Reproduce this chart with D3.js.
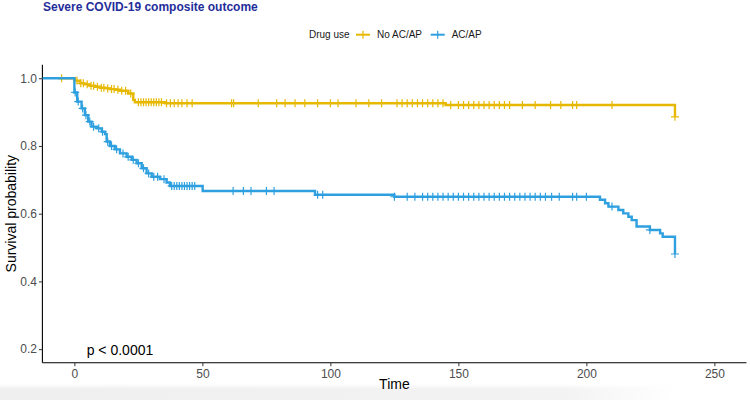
<!DOCTYPE html>
<html>
<head>
<meta charset="utf-8">
<script src="https://cdn.jsdelivr.net/npm/d3@7"></script>
<style>
  html, body { margin: 0; padding: 0; background: #fff; }
  svg { display: block; font-family: "Liberation Sans", Arial, sans-serif; }
</style>
</head>
<body>
<svg id="chart" width="750" height="400"></svg>
<script>
// ---------------- data ----------------
const title = "Severe COVID-19 composite outcome";
const legendTitle = "Drug use";
const groups = ["No AC/AP", "AC/AP"];
const xTicks = [0, 50, 100, 150, 200, 250];
const yTicks = [0.2, 0.4, 0.6, 0.8, 1.0];
const pValueLabel = "p < 0.0001";

// No AC/AP step curve (time, survival)
const noTimes = [-6.3, 0.2, 2.2, 4, 6, 8, 10, 12, 14, 16, 17.8, 21, 23, 23.6, 35.4, 145, 234.6];
const noSurv  = [1.0, 0.993, 0.985, 0.982, 0.978, 0.975, 0.972, 0.970, 0.968, 0.966, 0.963, 0.955, 0.936, 0.929, 0.926, 0.921, 0.886];
const noCensor = [-5, 1, 2.5, 3.5, 5, 6.5, 7.5, 9, 10.5, 11.5, 13, 14.5, 15.5, 17, 18.5, 20, 22, 25, 26, 27, 28, 29, 30, 31, 32, 33, 34, 36, 37.5, 39, 40.5, 42, 44, 46, 61.4, 62.2, 71.8, 79, 82.3, 86.2, 90, 95, 100, 103, 110, 115, 120, 126, 128, 130, 132, 134, 136, 138, 140, 142, 144, 147, 150, 152, 154, 156, 158, 160, 162, 164, 166, 168, 170, 175, 180, 186, 190, 194.6, 196.2, 210, 234.6];

// AC/AP step curve (time, survival)
const acTimes = [-12.5, 0, 1.1, 2.8, 4.1, 5.4, 6.7, 8.7, 10.7, 12, 12.6, 13.9, 15.8, 17.8, 20.4, 22.4, 24.3, 26.3, 28.2, 30.2, 33.4, 36, 37.3, 50.1, 94, 125, 205.3, 207.3, 208.6, 212.5, 214.4, 216.4, 217.7, 219.6, 224.8, 228.8, 229.8, 234.6];
const acSurv  = [1.0, 0.958, 0.931, 0.911, 0.891, 0.872, 0.857, 0.852, 0.842, 0.835, 0.813, 0.800, 0.790, 0.778, 0.768, 0.759, 0.749, 0.734, 0.719, 0.709, 0.702, 0.692, 0.682, 0.667, 0.656, 0.650, 0.641, 0.631, 0.621, 0.611, 0.601, 0.591, 0.581, 0.562, 0.552, 0.542, 0.532, 0.481];
const acCensor = [0.3, 1.5, 3.2, 4.5, 6, 7.5, 9.5, 11, 13, 14.5, 16.5, 19, 21, 23, 25, 27, 29, 31, 32.5, 35, 38, 39, 40, 41, 42, 43, 44, 45, 46, 47, 62, 66, 69, 75, 78, 95, 97, 125, 130, 133, 136, 138, 140, 142, 144, 146, 148, 150, 152, 154, 156, 158, 160, 162, 164, 166, 168, 170, 172, 174, 176, 178, 180, 182, 184, 186.4, 189.4, 194.6, 196.2, 200, 210, 224.8, 234.6];

const colors = ["#E7B800", "#2E9FDF"];

// ---------------- layout ----------------
const svg = d3.select("#chart");
const W = 750, H = 400;
const mLeft = 42.4, mRight = 746.4, mTop = 64.7, mBottom = 362.7;

const x = d3.scaleLinear().domain([-12.5, 262.5]).range([mLeft, mRight]);
const y = d3.scaleLinear().domain([0.16, 1.04]).range([mBottom, mTop]);

// bottom grey shade (screenshot artefact)
const defs = svg.append("defs");
const grad = defs.append("linearGradient").attr("id", "shade").attr("x1", 0).attr("x2", 1).attr("y1", 0).attr("y2", 0);
grad.append("stop").attr("offset", "0%").attr("stop-color", "#efefef");
grad.append("stop").attr("offset", "75%").attr("stop-color", "#f3f3f3");
grad.append("stop").attr("offset", "90%").attr("stop-color", "#ffffff");
const gradV = defs.append("linearGradient").attr("id", "shadeV").attr("x1", 0).attr("x2", 0).attr("y1", 0).attr("y2", 1);
gradV.append("stop").attr("offset", "0%").attr("stop-color", "#fff").attr("stop-opacity", 1);
gradV.append("stop").attr("offset", "100%").attr("stop-color", "#fff").attr("stop-opacity", 0);
svg.append("rect").attr("x", 0).attr("y", 384).attr("width", W).attr("height", 16).attr("fill", "url(#shade)");
svg.append("rect").attr("x", 0).attr("y", 384).attr("width", W).attr("height", 5).attr("fill", "url(#shadeV)");

// clip
defs.append("clipPath").attr("id", "clip").append("rect")
  .attr("x", mLeft).attr("y", mTop - 10).attr("width", mRight - mLeft).attr("height", mBottom - mTop + 10);

// title
svg.append("text").attr("x", 43).attr("y", 11)
  .attr("font-size", 12).attr("font-weight", "bold").attr("fill", "#1f2d9a")
  .text(title);

// legend
const lg = svg.append("g").attr("font-size", 10).attr("fill", "#1a1a1a");
lg.append("text").attr("x", 309).attr("y", 38.3).text(legendTitle);
const legItems = [{lx: 356, tx: 377}, {lx: 430.7, tx: 451.7}];
groups.forEach((g, i) => {
  const it = legItems[i];
  lg.append("line").attr("x1", it.lx).attr("x2", it.lx + 14).attr("y1", 34.7).attr("y2", 34.7)
    .attr("stroke", colors[i]).attr("stroke-width", 2);
  lg.append("line").attr("x1", it.lx + 7).attr("x2", it.lx + 7).attr("y1", 30.7).attr("y2", 38.7)
    .attr("stroke", colors[i]).attr("stroke-width", 1.2);
  lg.append("text").attr("x", it.tx).attr("y", 38.3).text(g);
});

// axes
const xAxis = d3.axisBottom(x).tickValues(xTicks).tickSize(3.5).tickPadding(3).tickFormat(d3.format("d"));
const yAxis = d3.axisLeft(y).tickValues(yTicks).tickSize(3.5).tickPadding(2).tickFormat(d3.format(".1f"));

const gx = svg.append("g").attr("transform", `translate(0,${mBottom})`).call(xAxis);
const gy = svg.append("g").attr("transform", `translate(${mLeft},0)`).call(yAxis);
[gx, gy].forEach(g => {
  g.select(".domain").attr("stroke", "#000").attr("stroke-width", 1.1);
  g.selectAll(".tick line").attr("stroke", "#333").attr("stroke-width", 1);
  g.selectAll(".tick text").attr("fill", "#4d4d4d").attr("font-size", 12)
    .attr("font-family", "'Liberation Sans', Arial, sans-serif");
});
gx.select(".domain").attr("d", `M${mLeft},0H${mRight}`);
gy.select(".domain").attr("d", `M0,${mTop}V${mBottom}`);

// axis titles
svg.append("text").attr("x", (mLeft + mRight) / 2).attr("y", 389).attr("text-anchor", "middle")
  .attr("font-size", 14).attr("fill", "#000").text("Time");
svg.append("text").attr("transform", `translate(15.5,${(mTop + mBottom) / 2}) rotate(-90)`)
  .attr("text-anchor", "middle").attr("font-size", 14).attr("fill", "#000").text("Survival probability");

// curves
const plot = svg.append("g").attr("clip-path", "url(#clip)");
const series = [
  {times: noTimes, surv: noSurv, censor: noCensor},
  {times: acTimes, surv: acSurv, censor: acCensor}
];
const line = d3.line().x(d => x(d[0])).y(d => y(d[1])).curve(d3.curveStepAfter);
function survAt(s, t) {
  const i = d3.bisectRight(s.times, t) - 1;
  return s.surv[Math.max(0, i)];
}
series.forEach((s, i) => {
  const pts = s.times.map((t, j) => [t, s.surv[j]]);
  plot.append("path").datum(pts).attr("d", line)
    .attr("fill", "none").attr("stroke", colors[i]).attr("stroke-width", 2.4);
  const g = plot.append("g").attr("stroke", colors[i]).attr("stroke-width", 1.2);
  s.censor.forEach(t => {
    const cx = x(t), cy = y(survAt(s, t));
    g.append("line").attr("x1", cx - 4).attr("x2", cx + 4).attr("y1", cy).attr("y2", cy);
    g.append("line").attr("x1", cx).attr("x2", cx).attr("y1", cy - 4).attr("y2", cy + 4);
  });
});

// p value
svg.append("text").attr("x", x(4.8)).attr("y", y(0.2) + 6).attr("font-size", 14).attr("fill", "#000")
  .text(pValueLabel);
</script>
</body>
</html>
